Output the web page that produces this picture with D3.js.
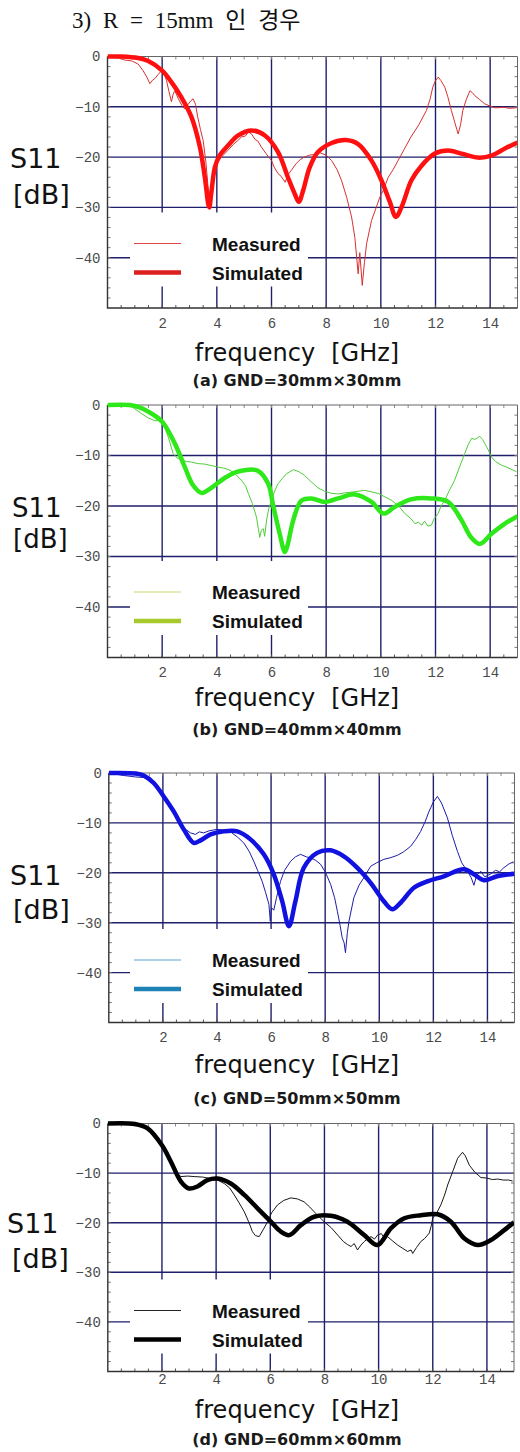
<!DOCTYPE html>
<html>
<head>
<meta charset="utf-8">
<script src="https://cdn.jsdelivr.net/npm/d3@7"></script>
<style>
  body { margin: 0; background: #fff; }
  svg { display: block; }
</style>
</head>
<body>
<div id="chart"></div>
<script>
// tick labels and captions
var freqTicks = [2, 4, 6, 8, 10, 12, 14],
  dbTicks = [0, -10, -20, -30, -40],
  legendNames = ["Measured", "Simulated"],
  captions = ["(a) GND=30mm\u00d730mm", "(b) GND=40mm\u00d740mm",
              "(c) GND=50mm\u00d750mm", "(d) GND=60mm\u00d760mm"];

// S11 [dB] vs frequency [GHz]
var measA = [[0,0],[0.3,-0.1],[0.63,-0.7],[0.9,-0.9],[1.12,-1.5],[1.3,-2.8],[1.45,-4.2],[1.55,-5.4],[1.65,-4.7],[1.73,-4.4],[1.85,-3.6],[1.98,-2.8],[2.08,-3.5],[2.16,-4.8],[2.25,-7],[2.34,-9],[2.4,-7.5],[2.46,-6.8],[2.6,-8.5],[2.75,-10],[2.83,-10.4],[2.95,-9.5],[3.05,-8.8],[3.13,-8.4],[3.22,-9.5],[3.3,-12],[3.4,-14.5],[3.5,-16.7],[3.6,-21],[3.68,-26],[3.72,-28.5],[3.78,-26],[3.85,-23.5],[3.93,-22],[4.1,-20.5],[4.25,-19.5],[4.4,-18.7],[4.6,-17.5],[4.75,-16.8],[4.9,-16],[5.05,-15.8],[5.15,-15],[5.27,-15.4],[5.4,-16.5],[5.5,-16.8],[5.63,-18],[5.8,-19.3],[6.0,-20.7],[6.1,-22],[6.24,-23.3],[6.35,-23.8],[6.5,-25],[6.6,-23.5],[6.73,-22.6],[6.9,-21.3],[7.05,-20.5],[7.2,-20],[7.4,-19.6],[7.55,-19.5],[7.7,-19],[7.85,-19.3],[8.0,-19.6],[8.2,-20.7],[8.4,-22.5],[8.56,-24.6],[8.75,-28],[8.93,-31.9],[9.05,-36],[9.17,-43.2],[9.23,-39],[9.32,-45.5],[9.4,-41],[9.48,-37.2],[9.66,-32.6],[9.8,-30.5],[9.96,-28],[10.1,-26.5],[10.27,-24],[10.45,-22.5],[10.63,-20.7],[10.85,-18.5],[11.1,-16],[11.4,-13.5],[11.67,-10.7],[11.8,-8.5],[11.9,-6.1],[12.0,-4.8],[12.1,-4.1],[12.2,-4.8],[12.34,-6.1],[12.45,-8],[12.58,-10.7],[12.7,-13],[12.83,-15.4],[12.92,-13.5],[13.0,-10.7],[13.13,-8.5],[13.26,-6.8],[13.35,-7.2],[13.44,-7.8],[13.6,-8.5],[13.8,-9.4],[14.05,-10],[14.2,-10.2],[14.5,-10.1],[14.7,-10.3],[14.96,-10.2]];
var simA = [[0,0],[0.5,0],[1.12,-0.3],[1.49,-0.9],[2,-2.8],[2.34,-5.1],[2.7,-8.1],[3.07,-12],[3.38,-18],[3.56,-24],[3.72,-30],[3.8,-27],[3.93,-22],[4.1,-19.7],[4.41,-17.7],[4.78,-15.7],[5.27,-14.7],[5.76,-15.7],[6.24,-19],[6.6,-24],[6.85,-27.3],[7.0,-28.9],[7.16,-26.6],[7.4,-22],[7.7,-19],[8.2,-17.2],[8.7,-16.6],[9.17,-17.4],[9.66,-20.7],[10.02,-24.6],[10.33,-28.9],[10.55,-31.9],[10.76,-29.9],[11.12,-24.6],[11.49,-21.7],[11.98,-19.3],[12.46,-18.7],[12.95,-19.3],[13.56,-20.1],[14.05,-19.7],[14.54,-18.3],[15,-17.1]];

var measB = [[0,0],[0.5,0],[0.88,-0.3],[1.24,-1.7],[1.5,-2.6],[1.73,-3.1],[2,-3.1],[2.1,-4.5],[2.22,-6.3],[2.4,-9.6],[2.55,-10.5],[2.7,-10.9],[2.9,-11.2],[3.07,-11.3],[3.3,-11.6],[3.56,-11.7],[3.8,-12],[4.05,-12.3],[4.25,-12.5],[4.48,-12.9],[4.7,-13.8],[4.9,-14.9],[5.05,-16],[5.15,-17.5],[5.3,-19.5],[5.45,-22.2],[5.52,-24.5],[5.57,-26.2],[5.63,-24.8],[5.7,-24.5],[5.75,-26],[5.82,-22.8],[5.9,-20.5],[6,-18.9],[6.12,-17],[6.24,-15.6],[6.4,-14.5],[6.55,-13.6],[6.8,-12.8],[7,-13.2],[7.2,-13.9],[7.45,-15.2],[7.7,-16.4],[7.95,-17.1],[8.2,-17.5],[8.45,-17.6],[8.68,-17.4],[9,-17.2],[9.41,-16.9],[9.65,-17.2],[9.9,-17.5],[10.15,-18.2],[10.4,-18.9],[10.65,-20],[10.88,-21.5],[11.1,-22.5],[11.25,-23.5],[11.37,-23.2],[11.5,-23.8],[11.6,-23],[11.72,-24],[11.85,-23.8],[11.95,-22.5],[12.1,-21.5],[12.2,-20],[12.34,-18.9],[12.5,-17],[12.7,-14.9],[12.9,-12],[13.07,-9.6],[13.2,-7.8],[13.32,-6.6],[13.45,-6.8],[13.62,-6.2],[13.72,-6.8],[13.8,-7.6],[13.92,-8.8],[14.05,-10.3],[14.2,-11.2],[14.41,-11.9],[14.6,-12.3],[14.8,-12.8],[14.96,-13.2]];
var simB = [[0,0],[0.8,0],[1.2,-0.5],[1.49,-1.3],[2,-3.3],[2.46,-7.6],[2.83,-12.3],[3.13,-15.9],[3.44,-17.4],[3.8,-16.4],[4.3,-14.4],[4.7,-13.3],[5.02,-12.9],[5.5,-13],[5.88,-15.6],[6.06,-19.9],[6.3,-25.5],[6.49,-29.1],[6.6,-27.5],[6.73,-24.2],[6.9,-21],[7.1,-18.9],[7.46,-18.5],[7.95,-19.2],[8.44,-18.5],[9.05,-17.7],[9.66,-19.2],[10.1,-21.5],[10.5,-20.2],[11.1,-18.7],[11.85,-18.5],[12.46,-19.2],[12.95,-22.8],[13.3,-26.2],[13.62,-27.5],[14.05,-25.5],[14.54,-23.5],[15,-22]];

var measC = [[0,0],[0.55,-0.5],[1.0,-0.8],[1.3,-0.9],[1.66,-2.2],[2.03,-4.8],[2.4,-7.6],[2.77,-11],[3.02,-12],[3.2,-12.3],[3.35,-11.8],[3.51,-12],[3.7,-11.6],[4.0,-11.3],[4.25,-11.4],[4.5,-11.8],[4.75,-12.8],[4.99,-14],[5.2,-15.8],[5.36,-17.7],[5.5,-19.5],[5.67,-21.7],[5.8,-24],[5.92,-26.3],[5.97,-29.7],[6.02,-27],[6.1,-27.5],[6.2,-25],[6.35,-21.7],[6.5,-19.5],[6.72,-17.7],[6.9,-16.8],[7.09,-16.3],[7.3,-16.8],[7.46,-17],[7.65,-17.5],[7.83,-18.3],[8.0,-19.8],[8.2,-22.3],[8.35,-25],[8.45,-27.7],[8.55,-30.5],[8.63,-33],[8.7,-34],[8.75,-36],[8.82,-32],[8.88,-29.7],[9.06,-25],[9.25,-22.5],[9.43,-21],[9.68,-18.7],[9.9,-18],[10.17,-17.3],[10.4,-17],[10.67,-16.5],[10.9,-15.8],[11.16,-14.7],[11.35,-13.3],[11.53,-11.7],[11.7,-9.7],[11.84,-7.7],[12.0,-5.8],[12.15,-4.7],[12.3,-6],[12.52,-9],[12.7,-12.5],[12.89,-15.7],[13.05,-18],[13.26,-19.7],[13.4,-21],[13.5,-22.5],[13.6,-20.5],[13.75,-19.7],[13.9,-20.8],[14.1,-20.3],[14.3,-19.5],[14.45,-19.8],[14.6,-19],[14.8,-18.2],[14.96,-17.8]];
var simC = [[0,0],[1.0,-0.1],[1.29,-0.5],[1.66,-2],[2.03,-4.7],[2.4,-7.7],[2.77,-11.3],[3.14,-14],[3.39,-13.5],[3.76,-12.3],[4.25,-11.7],[4.75,-11.7],[5.24,-13.3],[5.73,-16.3],[6.1,-20.3],[6.41,-25.7],[6.66,-30.7],[6.9,-25.7],[7.21,-19],[7.7,-16],[8.2,-15.5],[8.69,-16.7],[9.19,-19],[9.68,-22],[10.17,-25.7],[10.48,-27.3],[10.79,-26],[11.28,-23],[11.78,-21.7],[12.39,-20.7],[13.13,-19.3],[13.5,-20.3],[13.87,-21.5],[14.36,-20.7],[15,-20.2]];

var measD = [[0,0],[1.0,-0.1],[1.47,-1],[2,-4.4],[2.33,-7.7],[2.55,-10],[2.7,-10.7],[2.95,-10.6],[3.19,-10.7],[3.5,-10.8],[3.8,-11.1],[4.05,-11.4],[4.3,-12.1],[4.5,-13],[4.67,-14.4],[4.85,-16],[5.04,-17.8],[5.2,-19.8],[5.34,-21.8],[5.45,-22.6],[5.59,-22.8],[5.75,-21.3],[5.9,-19.8],[6.05,-18],[6.27,-16.4],[6.5,-15.5],[6.76,-15],[7.0,-15.2],[7.25,-15.8],[7.45,-16.8],[7.62,-17.8],[7.8,-18.8],[7.99,-19.8],[8.25,-21],[8.49,-22.5],[8.7,-23.8],[8.85,-24.4],[8.98,-24.8],[9.1,-24.2],[9.22,-25.5],[9.35,-24.5],[9.47,-23.8],[9.6,-23.2],[9.72,-22.8],[9.85,-23.3],[9.96,-22.5],[10.1,-22.2],[10.2,-23],[10.33,-22.8],[10.5,-23.6],[10.7,-24.5],[10.9,-25.2],[11.07,-25.8],[11.2,-25.5],[11.26,-26.2],[11.4,-25],[11.56,-23.8],[11.7,-23.2],[11.87,-22.1],[11.95,-20.5],[12.0,-19.1],[12.15,-18],[12.3,-16.4],[12.45,-14.2],[12.55,-12.4],[12.75,-9.5],[12.92,-7.0],[13.1,-5.8],[13.2,-6.5],[13.35,-8.4],[13.55,-9.8],[13.78,-10.9],[14.0,-11],[14.2,-11.3],[14.4,-11.2],[14.6,-11.4],[14.8,-11.4],[14.95,-11.6]];
var simD = [[0,0],[1.0,-0.1],[1.47,-1],[2,-4.4],[2.33,-7.7],[2.7,-11.7],[3.0,-13.1],[3.31,-12.7],[3.68,-11.4],[4.05,-11.1],[4.54,-12.1],[5.04,-14.4],[5.53,-17.1],[6.02,-19.8],[6.39,-21.8],[6.7,-22.5],[7.13,-20.5],[7.62,-18.8],[8.24,-18.6],[8.85,-19.8],[9.47,-22.5],[9.96,-24.5],[10.46,-21.1],[10.95,-19.1],[11.56,-18.5],[12.18,-18.3],[12.67,-19.8],[13.17,-23.2],[13.66,-24.5],[14.15,-23.5],[14.64,-21.5],[15,-19.9]];

// panel layout and colours
var panels = [
  { meas: measA, sim: simA, cap: captions[0],
    measCol: "#d63030", simCol: "#ff1010", legThin: "#e04848", legThick: "#dd1f1f",
    left: 107.5, right: 517.5, top: 56.5, bottom: 308, lblPad: 10, ySize: 27,
    s11: [10, 168], db: [13, 204], freqY: 361, capY: 386 },
  { meas: measB, sim: simB, cap: captions[1],
    measCol: "#4fcc3a", simCol: "#2ee81a", legThin: "#c4dc6a", legThick: "#a6c92c",
    left: 107.5, right: 517.5, top: 405, bottom: 657.5, lblPad: 10, ySize: 26,
    s11: [12, 517], db: [13, 548], freqY: 706, capY: 735 },
  { meas: measC, sim: simC, cap: captions[2],
    measCol: "#1c1ca8", simCol: "#1212e0", legThin: "#5aa6d2", legThick: "#1f82b6",
    left: 108.8, right: 514.5, top: 773, bottom: 1022.5, lblPad: 10, ySize: 27,
    s11: [10, 885], db: [13, 919], freqY: 1073, capY: 1104 },
  { meas: measD, sim: simD, cap: captions[3],
    measCol: "#181818", simCol: "#000000", legThin: "#222222", legThick: "#000000",
    left: 107.8, right: 514, top: 1123.5, bottom: 1371.5, lblPad: 3, ySize: 27,
    s11: [7, 1233], db: [12, 1268], freqY: 1418, capY: 1445 }
];

var width = 520, height = 1452;

var svg = d3.select("#chart").append("svg")
  .attr("width", width)
  .attr("height", height);

svg.append("rect").attr("width", width).attr("height", height).attr("fill", "#fff");

// page heading
svg.append("text")
  .attr("x", 72).attr("y", 28)
  .style("font-family", "'Liberation Serif', 'Noto Sans CJK KR', serif")
  .style("font-size", "23px")
  .style("word-spacing", "6px")
  .attr("fill", "#111")
  .text("3)  R = 15mm 인 경우");

var gridCol = "#1f1f6b";

panels.forEach(function(p, i) {
  var x = d3.scaleLinear().domain([0, 15]).range([p.left, p.right]);
  var y = d3.scaleLinear().domain([-50, 0]).range([p.bottom, p.top]);
  var g = svg.append("g").attr("class", "panel" + i);

  // grid lines
  g.selectAll(".vgrid").data(freqTicks).enter().append("line")
    .attr("x1", function(d) { return x(d); }).attr("x2", function(d) { return x(d); })
    .attr("y1", y(0)).attr("y2", y(-50))
    .attr("stroke", gridCol).attr("stroke-width", 1.4);
  g.selectAll(".hgrid").data(dbTicks.slice(1)).enter().append("line")
    .attr("x1", x(0)).attr("x2", x(15))
    .attr("y1", function(d) { return y(d); }).attr("y2", function(d) { return y(d); })
    .attr("stroke", gridCol).attr("stroke-width", 1.4);

  // minor ticks on all sides
  var xm = d3.range(0.5, 15, 0.5), ym = d3.range(-48, 0, 2);
  g.selectAll(".mtb").data(xm).enter().append("line")
    .attr("x1", function(d) { return x(d); }).attr("x2", function(d) { return x(d); })
    .attr("y1", y(-50)).attr("y2", y(-50) - 3)
    .attr("stroke", "#555").attr("stroke-width", 1);
  g.selectAll(".mtt").data(xm).enter().append("line")
    .attr("x1", function(d) { return x(d); }).attr("x2", function(d) { return x(d); })
    .attr("y1", y(0)).attr("y2", y(0) + 3)
    .attr("stroke", "#888").attr("stroke-width", 1);
  g.selectAll(".mtl").data(ym).enter().append("line")
    .attr("x1", x(0)).attr("x2", x(0) + 3)
    .attr("y1", function(d) { return y(d); }).attr("y2", function(d) { return y(d); })
    .attr("stroke", "#777").attr("stroke-width", 1);
  g.selectAll(".mtr").data(ym).enter().append("line")
    .attr("x1", x(15)).attr("x2", x(15) - 3)
    .attr("y1", function(d) { return y(d); }).attr("y2", function(d) { return y(d); })
    .attr("stroke", "#777").attr("stroke-width", 1);

  // frame
  g.append("path")
    .attr("d", "M" + x(0) + "," + y(0) + "H" + x(15) + "V" + y(-50))
    .attr("fill", "none").attr("stroke", "#666").attr("stroke-width", 1);
  g.append("path")
    .attr("d", "M" + x(0) + "," + y(0) + "V" + y(-50) + "H" + x(15))
    .attr("fill", "none").attr("stroke", "#333").attr("stroke-width", 1.4);

  // axis labels
  var xAxis = g.append("g")
    .attr("transform", "translate(0," + y(-50) + ")")
    .call(d3.axisBottom(x).tickValues(freqTicks).tickSize(0).tickPadding(p.lblPad));
  var yAxis = g.append("g")
    .attr("transform", "translate(" + x(0) + ",0)")
    .call(d3.axisLeft(y).tickValues(dbTicks).tickSize(0).tickPadding(7));
  [xAxis, yAxis].forEach(function(a) {
    a.select(".domain").remove();
    a.selectAll("text")
      .style("font-family", "'Liberation Mono', 'DejaVu Sans Mono', monospace")
      .style("font-size", "14px")
      .attr("fill", "#4a4a4a");
  });

  // legend (white box hides the grid)
  var lg = g.append("g");
  lg.append("rect")
    .attr("x", 130).attr("y", p.top + 156)
    .attr("width", 178).attr("height", 74)
    .attr("fill", "#fff");
  lg.append("line")
    .attr("x1", 134).attr("x2", 181)
    .attr("y1", p.top + 187).attr("y2", p.top + 187)
    .attr("stroke", p.legThin).attr("stroke-width", 1.2);
  lg.append("line")
    .attr("x1", 134).attr("x2", 181)
    .attr("y1", p.top + 216).attr("y2", p.top + 216)
    .attr("stroke", p.legThick).attr("stroke-width", 4.5);
  lg.selectAll("text").data(legendNames).enter().append("text")
    .attr("x", 212)
    .attr("y", function(d, k) { return p.top + 194 + k * 29; })
    .style("font-family", "'Liberation Sans', Arial, sans-serif")
    .style("font-size", "19px").style("font-weight", "bold")
    .attr("fill", "#111")
    .text(function(d) { return d; });

  // curves
  var clipId = "clip" + i;
  g.append("clipPath").attr("id", clipId).append("rect")
    .attr("x", x(0)).attr("y", y(0) - 4)
    .attr("width", x(15) - x(0)).attr("height", y(-50) - y(0) + 4);

  var measLine = d3.line()
    .x(function(d) { return x(d[0]); })
    .y(function(d) { return y(d[1]); });
  var simLine = d3.line()
    .curve(d3.curveCatmullRom.alpha(0.5))
    .x(function(d) { return x(d[0]); })
    .y(function(d) { return y(d[1]); });

  g.append("path").datum(p.meas)
    .attr("clip-path", "url(#" + clipId + ")")
    .attr("d", measLine)
    .attr("fill", "none").attr("stroke", p.measCol)
    .attr("stroke-width", 1).attr("stroke-linejoin", "round");
  g.append("path").datum(p.sim)
    .attr("clip-path", "url(#" + clipId + ")")
    .attr("d", simLine)
    .attr("fill", "none").attr("stroke", p.simCol)
    .attr("stroke-width", 4.5).attr("stroke-linejoin", "round");

  // side and bottom titles
  var sans = "'DejaVu Sans', Verdana, sans-serif";
  g.append("text").attr("x", p.s11[0]).attr("y", p.s11[1])
    .style("font-family", sans).style("font-size", p.ySize + "px").attr("fill", "#111")
    .text("S11");
  g.append("text").attr("x", p.db[0]).attr("y", p.db[1])
    .style("font-family", sans).style("font-size", p.ySize + "px").attr("fill", "#111")
    .text("[dB]");

  var ft = g.append("text").attr("x", 297).attr("y", p.freqY)
    .attr("text-anchor", "middle")
    .style("font-family", sans).style("font-size", "24px").attr("fill", "#111");
  ft.append("tspan").text("frequency");
  ft.append("tspan").attr("dx", 16).text("[GHz]");

  g.append("text").attr("x", 297).attr("y", p.capY)
    .attr("text-anchor", "middle")
    .style("font-family", sans).style("font-size", "16px").style("font-weight", "bold")
    .attr("fill", "#1a1a1a")
    .text(p.cap);
});
</script>
</body>
</html>
